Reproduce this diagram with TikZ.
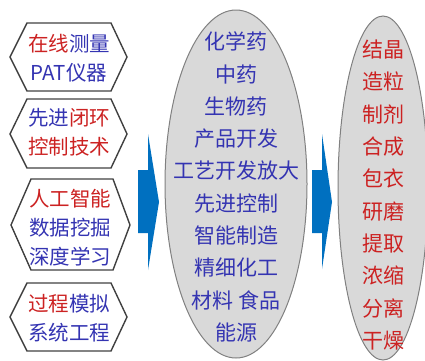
\documentclass[tikz,border=0pt]{standalone}
\usepackage{fontspec}
\setmainfont{Noto Sans CJK SC}
\definecolor{tred}{RGB}{204,34,34}
\definecolor{tblue}{RGB}{52,52,178}
\definecolor{abl}{RGB}{0,112,192}
\definecolor{efill}{RGB}{217,217,217}
\definecolor{eline}{RGB}{128,128,128}
\definecolor{hline}{RGB}{64,64,64}
\newcommand{\R}[1]{\textcolor{tred}{#1}}
\newcommand{\B}[1]{\textcolor{tblue}{#1}}
\tikzset{
  hexline/.style={draw=hline, line width=1.4pt, line join=miter},
  hextext/.style={align=center, inner sep=0pt, font=\fontsize{20.5}{29}\selectfont},
  elltext/.style={align=center, inner sep=0pt, font=\fontsize{21}{32.3}\selectfont},
  ellbox/.style={draw=eline, fill=efill, line width=1pt},
  bigarrow/.style={fill=abl, draw=none}
}
\begin{document}
\begin{tikzpicture}[x=1pt,y=-1pt]
\useasboundingbox (0,0) rectangle (425,360);
% ellipses
\begin{scope}
\clip (0,0) rectangle (425,360);
\draw[ellbox] (236,184) ellipse [x radius=71, y radius=174];
\draw[ellbox] (383,188) ellipse [x radius=45, y radius=172];
\end{scope}
% hexagons
\draw[hexline] (10,57) -- (27,23) -- (111,23) -- (127,57) -- (111,91) -- (27,91) -- cycle;
\draw[hexline] (10,134) -- (27,99) -- (111,99) -- (127,134) -- (111,168) -- (27,168) -- cycle;
\draw[hexline] (11,225) -- (31,179) -- (113,179) -- (130,225) -- (113,270) -- (31,270) -- cycle;
\draw[hexline] (10,317) -- (27,283) -- (111,283) -- (127,317) -- (111,351) -- (27,351) -- cycle;
% hexagon texts
\node[hextext] (h1) at (69,58.5) {\R{在线}\B{测量}\\\B{PAT仪器}};
\node[hextext] (h2) at (69,132) {\B{先进}\R{闭环}\\\R{控制技术}};
\node[hextext] (h3) at (70,228) {\R{人工智能}\\\B{数据挖掘}\\\B{深度学习}};
\node[hextext] (h4) at (69,318) {\R{过程}\B{模拟}\\\B{系统工程}};
% arrows
\fill[bigarrow] (138,170) -- (148,170) -- (148,134) -- (159,202) -- (148,270) -- (148,233) -- (138,233) -- cycle;
\fill[bigarrow] (312,170) -- (322,170) -- (322,134) -- (332,202) -- (322,269) -- (322,233) -- (312,233) -- cycle;
% ellipse texts
\node[elltext, text=tblue] (e1) at (236,187) {化学药\\中药\\生物药\\产品开发\\工艺开发放大\\先进控制\\智能制造\\精细化工\\材料 食品\\能源};
\node[elltext, text=tred] (e2) at (383,195) {结晶\\造粒\\制剂\\合成\\包衣\\研磨\\提取\\浓缩\\分离\\干燥};
\end{tikzpicture}
\end{document}
